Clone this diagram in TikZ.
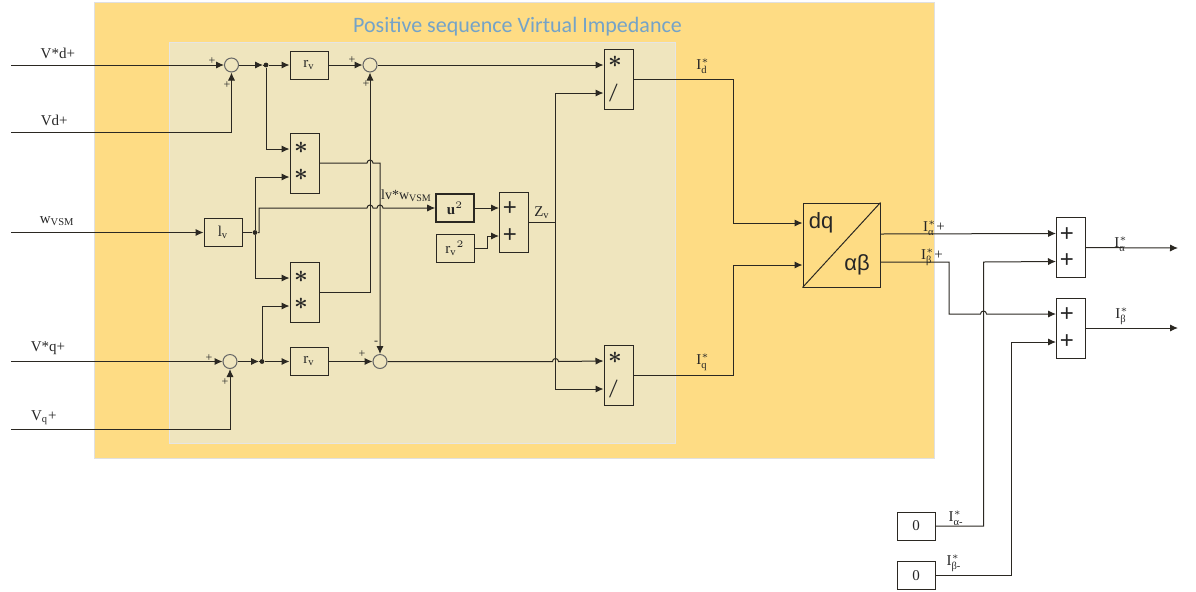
\documentclass[tikz,border=0pt]{standalone}
\usepackage{amsmath}
\usepackage{fontspec}
\setmainfont{Liberation Serif}
\newfontfamily\TitleFont{Carlito}
\newfontfamily\ConvFont{Liberation Sans}
\usetikzlibrary{arrows.meta, positioning, calc}
\definecolor{outerFill}{HTML}{FEDC84}
\definecolor{innerFill}{HTML}{EFE5BE}
\definecolor{titleBlue}{HTML}{74A3C8}
\definecolor{wire}{HTML}{2B2822}
\newcommand{\Cur}[1]{$\text{I}^{*}_{\text{#1}}$}
\newcommand{\Sub}[2]{#1$_{\text{#2}}$}
\newcommand{\Hop}[2]{-- ({#1-3},#2) arc[start angle=180, end angle=0, radius=1.5pt]}
\newcommand{\OpStar}[1]{\raisebox{#1}{$\boldsymbol{*}$}\kern3.5pt}
\newcommand{\OpDiv}{\raisebox{-0.3pt}{\fontsize{9.5}{14}\selectfont$\boldsymbol{/}$}\kern5pt}
\newcommand{\OpPlus}{\raisebox{-1.6pt}{\ConvFont +}\kern4pt}
\tikzset{
    >={Latex[length=4pt,width=3.6pt]},
    every node/.append style={text=black!85},
    block/.style={draw, inner sep=0pt, minimum width=19pt, minimum height=14pt, font=\fontsize{7.5}{8}\selectfont},
    opbox/.style={draw, inner sep=0pt, minimum width=14.5pt, minimum height=30pt, align=center, font=\fontsize{12}{13.3}\selectfont},
    sumnode/.style={circle, draw=black!60, inner sep=0pt, minimum size=7pt},
    dotnode/.style={circle, fill=wire, draw=none, inner sep=0pt, minimum size=2.4pt},
    sign/.style={inner sep=0pt, font=\fontsize{6}{6}\selectfont},
    lab/.style={inner sep=0pt, font=\fontsize{7.5}{8}\selectfont},
}

\begin{document}
\begin{tikzpicture}[x=0.5pt, y=-0.5pt, color=wire, line width=0.5pt]
    \useasboundingbox (0,0) rectangle (1196,591);

    % shaded areas
    \path[fill=outerFill, draw=black!12] (94,2) rectangle (934,458);
    \path[fill=innerFill, draw=black!10] (169,42) rectangle (675,443);
    \node[inner sep=0pt, text=titleBlue, font=\TitleFont\fontsize{11}{12}\selectfont] (title) at (517.5,27) {Positive sequence Virtual Impedance};

    % free ends of the inputs
    \coordinate (vdsIn) at (11,65);
    \coordinate (vdIn) at (11,132.5);
    \coordinate (wIn) at (11,232.5);
    \coordinate (vqsIn) at (11,361.5);
    \coordinate (vqIn) at (11,429);
    \coordinate (iaOut) at (1178,248);
    \coordinate (ibOut) at (1178,328);

    % upper row
    \node[sumnode] (sumA) at (231.5,65) {};
    \node[dotnode] (jA) at (266,65) {};
    \node[block] (rA) at (309,65) {r\textsubscript{v}};
    \node[sumnode] (sumB) at (370,65) {};
    \node[opbox] (divA) at (618.5,79) {\OpStar{1.3pt}\\\OpDiv};

    % middle
    \node[opbox] (mulA) at (304.5,163) {\OpStar{1.9pt}\\\OpStar{1.9pt}};
    \node[block] (lv) at (223,232.5) {\Sub{l}{v}};
    \node[dotnode] (jW) at (255,232.5) {};
    \node[opbox] (mulB) at (304.5,292) {\OpStar{1.9pt}\\\OpStar{1.9pt}};
    \node[block, line width=0.8pt] (uSq) at (455,208) {\textbf{u}$^{2}$};
    \node[block] (rSq) at (455,248) {r\textsubscript{v}$^{2}$};
    \node[opbox] (addZ) at (514,222) {\OpPlus\\\OpPlus};

    % lower row
    \node[sumnode] (sumC) at (230,361.5) {};
    \node[dotnode] (jC) at (262,361.5) {};
    \node[block] (rB) at (309,361.5) {r\textsubscript{v}};
    \node[sumnode] (sumD) at (380,361.5) {};
    \node[opbox] (divB) at (618.5,375) {\OpStar{1.3pt}\\\OpDiv};

    % dq to alpha beta and the output adders
    \node[draw, inner sep=0pt, minimum width=38.5pt, minimum height=42pt] (conv) at (841.5,245) {};
    \node[inner sep=0pt, font=\ConvFont\fontsize{11}{12}\selectfont] (dqText) at (821,223) {dq};
    \node[inner sep=0pt, font=\ConvFont\fontsize{11}{12}\selectfont] (abText) at (857,265) {αβ};
    \node[opbox] (addA) at (1071,247.5) {\OpPlus\\\OpPlus};
    \node[opbox] (addB) at (1071,328) {\OpPlus\\\OpPlus};
    \node[block] (zeroA) at (916,526) {0};
    \node[block] (zeroB) at (916,575.5) {0};

    \draw (conv.south west) -- (conv.north east);

    % connectors
    \draw (vdsIn) edge[->] node[lab, above=3pt, pos=0.22] {V*d+} (sumA);
    \draw[->] (vdIn) -| node[lab, above=3pt, pos=0.098] {Vd+} (sumA);
    \draw[->] (sumA) -- (263,65);
    \draw (263,65) -- (jA);
    \draw (jA) edge[->] (rA);
    \draw (rA) edge[->] (sumB);
    \draw (sumB) edge[->] ([yshift=7pt]divA.west);
    \draw[->] (jA) |- ([yshift=7pt]mulA.west);

    \draw (wIn) edge[->] node[lab, above=3pt, pos=0.24] {w\textsubscript{VSM}} (lv);
    \draw (lv) -- (jW);
    \draw[->] (jW) |- ([yshift=-7pt]mulA.west);
    \draw[->] (jW) |- ([yshift=7pt]mulB.west);
    \draw[->] (jW) -- (259,232.5) -- (259,208) \Hop{370}{208} \Hop{380}{208} -- (uSq);
    \draw (uSq) edge[->] ([yshift=7pt]addZ.west);
    \draw[->] (rSq) -- (487,248) -- (487,236) -- ([yshift=-7pt]addZ.west);

    \draw[->] (mulA.east) \Hop{370}{163} -- (380,163) -- (sumD);
    \draw[->] (mulB.east) -| (sumB);

    \draw (vqsIn) edge[->] node[lab, above=3pt, pos=0.175] {V*q+} (sumC);
    \draw[->] (vqIn) -| node[lab, above=2pt, pos=0.075] {\Sub{V}{q}+} (sumC);
    \draw[->] (sumC) -- (259,361.5);
    \draw (259,361.5) -- (jC);
    \draw (jC) edge[->] (rB);
    \draw[->] (jC) |- ([yshift=-7pt]mulB.west);
    \draw (rB) edge[->] (sumD);
    \draw[->] (sumD) \Hop{555.5}{361.5} -- ([yshift=7pt]divB.west);

    \draw (addZ.east) -- (555.5,222);
    \draw[->] (555.5,222) |- ([yshift=-7pt]divA.west);
    \draw[->] (555.5,222) |- ([yshift=-7pt]divB.west);

    \draw[->] (divA.east) -- (733,79) -- (733,223) -- (conv.west |- 733,223);
    \draw[->] (divB.east) -- (733,375) -- (733,265) -- (conv.west |- 733,265);

    \draw[->] (conv.east |- 880,234) -- ([yshift=7pt]addA.west);
    \draw[->] (conv.east |- 880,262) -- (949,262) -- (949,314) \Hop{983.5}{314} -- ([yshift=7pt]addB.west);
    \draw[->] (zeroA) -- (983.5,526) -- (983.5,262) -- ([yshift=-7pt]addA.west);
    \draw[->] (zeroB) -- (1011,575.5) -- (1011,342) -- ([yshift=-7pt]addB.west);
    \draw (addA) edge[->] (iaOut);
    \draw (addB) edge[->] (ibOut);

    % signs
    \node[sign] (sA1) at (212,61) {+};
    \node[sign] (sA2) at (227,85) {+};
    \node[sign] (sB1) at (352,60) {+};
    \node[sign] (sB2) at (366,84) {+};
    \node[sign] (sC1) at (209,358) {+};
    \node[sign] (sC2) at (225,382) {+};
    \node[sign] (sD1) at (362,354) {+};
    \node[sign] (sD2) at (376,343) {-};

    % signal names
    \node[lab, font=\fontsize{7}{8}\selectfont] (lvw) at (406.5,196) {lv*w\textsubscript{VSM}};
    \node[lab] (zv) at (542,213) {\Sub{Z}{v}};
    \node[lab] (idLab) at (703,66) {\Cur{d}};
    \node[lab] (iqLab) at (703,362) {\Cur{q}};
    \node[lab] (iapLab) at (934,228) {\Cur{α}+};
    \node[lab] (ibpLab) at (932,257) {\Cur{β}+};
    \node[lab] (iaLab) at (1121,244) {\Cur{α}};
    \node[lab] (ibLab) at (1122,316) {\Cur{β}};
    \node[lab] (ianLab) at (956,518) {\Cur{α-}};
    \node[lab] (ibnLab) at (954,563) {\Cur{β-}};
\end{tikzpicture}
\end{document}
